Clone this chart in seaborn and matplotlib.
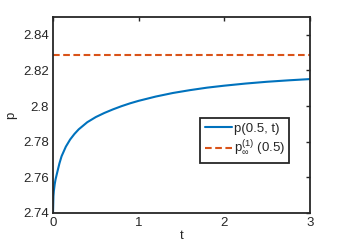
import matplotlib
matplotlib.use("Agg")
import matplotlib.pyplot as plt
import pandas as pd
import seaborn as sns

# values
t_vals = [0.0, 0.005, 0.01, 0.02, 0.03, 0.05, 0.075, 0.1, 0.15, 0.2, 0.25,
          0.3, 0.4, 0.5, 0.6, 0.7, 0.8, 0.9, 1.0, 1.2, 1.4, 1.6, 1.8, 2.0,
          2.25, 2.5, 2.75, 3.0]
p_vals = [2.7400, 2.7494, 2.7524, 2.7562, 2.7589, 2.7629, 2.7678, 2.7718,
          2.7772, 2.7812, 2.7843, 2.7869, 2.7909, 2.7938, 2.7961, 2.7981,
          2.7999, 2.8015, 2.8029, 2.8053, 2.8073, 2.8089, 2.8103, 2.8114,
          2.8126, 2.8136, 2.8144, 2.8151]
p_inf = 2.8284
x_ticks = [0, 1, 2, 3]
y_ticks = [2.74, 2.76, 2.78, 2.80, 2.82, 2.84]
y_tick_labels = ["2.74", "2.76", "2.78", "2.8", "2.82", "2.84"]

blue = "#0072BD"
orange = "#D95319"
axis_color = "#262626"

sns.set_theme(style="white")
plt.rcParams["font.family"] = ["Liberation Sans", "DejaVu Sans"]
plt.rcParams["mathtext.fontset"] = "custom"
plt.rcParams["mathtext.rm"] = "Liberation Sans"
plt.rcParams["mathtext.it"] = "Liberation Sans"

df = pd.DataFrame({"t": t_vals, "p": p_vals})

fig = plt.figure(figsize=(3.42, 2.52), dpi=100)
ax = fig.add_axes([0.155, 0.155, 0.751, 0.778])

sns.lineplot(data=df, x="t", y="p", ax=ax, color=blue, lw=1.5,
             label="p(0.5, t)")
ax.axhline(p_inf, color=orange, lw=1.5, ls=(0, (3.2, 1.7)),
           label=r"p$_{\infty}^{(1)}$ (0.5)")

ax.set_xlim(0, 3)
ax.set_ylim(2.74, 2.85)
ax.set_xticks(x_ticks)
ax.set_yticks(y_ticks)
ax.set_yticklabels(y_tick_labels)
ax.set_xlabel("t", fontsize=9.5, color=axis_color, labelpad=1)
ax.set_ylabel("p", fontsize=9.5, color=axis_color, labelpad=4)

ax.tick_params(direction="in", length=3, width=1.0, colors=axis_color,
               labelsize=9.5, top=True, right=True, pad=3)
ax.tick_params(axis="x", labeltop=False)
ax.tick_params(axis="y", labelright=False)
for s in ax.spines.values():
    s.set_color(axis_color)
    s.set_linewidth(1.3)
    s.set_visible(True)

leg = ax.legend(loc="upper left", bbox_to_anchor=(0.572, 0.485), fontsize=9.5,
                frameon=True, fancybox=False, handlelength=2.1,
                handletextpad=0.1, borderpad=0.35, labelspacing=0.35,
                borderaxespad=0)
leg.get_frame().set_edgecolor(axis_color)
leg.get_frame().set_linewidth(1.3)
leg.get_frame().set_alpha(1)

fig.savefig("out.png", dpi=100)
